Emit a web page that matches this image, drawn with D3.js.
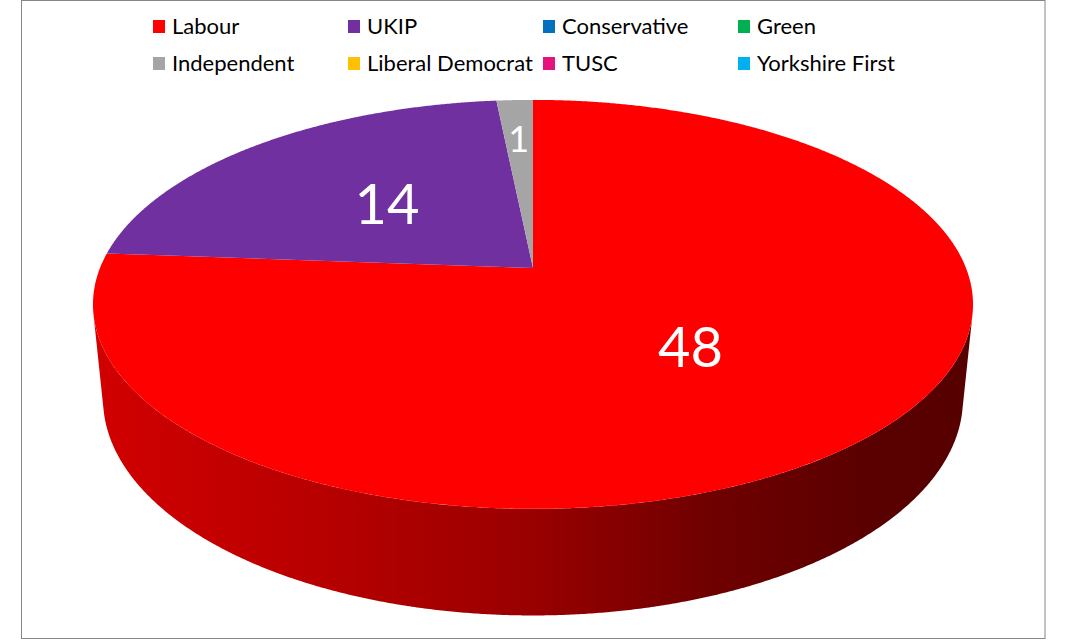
<!DOCTYPE html>
<meta charset="utf-8">
<style>
  body { margin: 0; background: #fff; }
  .legend text { font: 22px Lato, sans-serif; fill: #000; }
  .label { font-family: Lato, sans-serif; fill: #fff; text-anchor: middle; dominant-baseline: central; }
</style>
<body>
<svg id="chart" width="1066" height="640"></svg>
</body>
<script src="https://cdnjs.cloudflare.com/ajax/libs/d3/7.8.5/d3.min.js"></script>
<script>
  const parties = ["Labour", "UKIP", "Conservative", "Green", "Independent", "Liberal Democrat", "TUSC", "Yorkshire First"]
  const seats = [48, 14, 0, 0, 1, 0, 0, 0]
  const colors = ["#ff0000", "#7030a0", "#0070c0", "#00b050", "#a5a5a5", "#ffc000", "#e6127e", "#00b0f0"]

  // perspective camera for the 3d disc (unit radius)
  const cam = { cx: 533, cy: 268, f: 2165, D: 5, tilt: 0.475, h: 0.248 }
  const sn = Math.sin(cam.tilt), cs = Math.cos(cam.tilt)

  function project(theta, r, z) {
    const X = r * Math.sin(theta), Y = r * Math.cos(theta)
    const depth = cam.D + Y * cs - z * sn
    return [cam.cx + cam.f * X / depth, cam.cy - cam.f * (Y * sn + z * cs) / depth]
  }

  function ring(a0, a1, z) {
    const n = Math.max(2, Math.ceil((a1 - a0) / 0.005))
    return d3.range(n + 1).map(i => project(a0 + (a1 - a0) * i / n, 1, z))
  }

  const svg = d3.select('#chart')

  svg.append('rect')
      .attr('x', 21.5).attr('y', 0.5)
      .attr('width', 1023.5).attr('height', 638)
      .attr('fill', '#fff')
      .attr('stroke', '#868686')

  const pie = d3.pie().sort(null).value(d => d)
  const arcs = pie(seats).map((a, i) => ({ ...a, party: parties[i], color: colors[i] }))
    .filter(a => a.value > 0)

  // side wall shading, left to right
  const shade = d3.scaleLinear()
    .domain([0, 0.25, 0.5, 0.7, 0.9, 1])
    .range([0.82, 0.72, 0.6, 0.44, 0.35, 0.34])

  const defs = svg.append('defs')
  const left = project(-Math.PI / 2, 1, 0)[0], right = project(Math.PI / 2, 1, 0)[0]
  arcs.forEach((a, i) => {
    const g = defs.append('linearGradient')
      .attr('id', 'side' + i)
      .attr('gradientUnits', 'userSpaceOnUse')
      .attr('x1', left).attr('x2', right).attr('y1', 0).attr('y2', 0)
    const base = d3.rgb(a.color)
    shade.domain().forEach(t => {
      const k = shade(t)
      g.append('stop')
        .attr('offset', t)
        .attr('stop-color', d3.rgb(base.r * k, base.g * k, base.b * k))
    })
  })

  // visible part of the wall: outward normal faces the camera
  const vis = Math.acos(-1 / (cam.D * cs))
  const vis0 = vis, vis1 = 2 * Math.PI - vis
  const line = d3.line()

  arcs.forEach((a, i) => {
    const a0 = Math.max(a.startAngle, vis0), a1 = Math.min(a.endAngle, vis1)
    if (a1 <= a0) return
    const pts = ring(a0, a1, 0).concat(ring(a0, a1, -cam.h).reverse())
    svg.append('path')
      .attr('d', line(pts) + 'Z')
      .attr('fill', `url(#side${i})`)
  })

  arcs.forEach(a => {
    const pts = [project(0, 0, 0)].concat(ring(a.startAngle, a.endAngle, 0))
    svg.append('path')
      .attr('d', line(pts) + 'Z')
      .attr('fill', a.color)
  })

  arcs.forEach(a => {
    const mid = (a.startAngle + a.endAngle) / 2
    const small = a.value / d3.sum(seats) < 0.05
    const [x, y] = project(mid, small ? 0.745 : 0.5, 0)
    svg.append('text')
      .attr('class', 'label')
      .attr('x', x).attr('y', y)
      .attr('font-size', small ? 36 : 56)
      .text(a.value)
  })

  // legend: 4 columns, 2 rows
  const col = d3.scaleLinear().domain([0, 1]).range([153, 348])
  const row = d3.scaleLinear().domain([0, 1]).range([20, 57])
  const legend = svg.append('g').attr('class', 'legend')
    .selectAll('g')
    .data(parties)
    .join('g')
      .attr('transform', (d, i) => `translate(${col(i % 4)},${row(Math.floor(i / 4))})`)
  legend.append('rect')
      .attr('width', 12).attr('height', 13)
      .attr('fill', (d, i) => colors[i])
  legend.append('text')
      .attr('x', 19).attr('y', 14)
      .text(d => d)
</script>
